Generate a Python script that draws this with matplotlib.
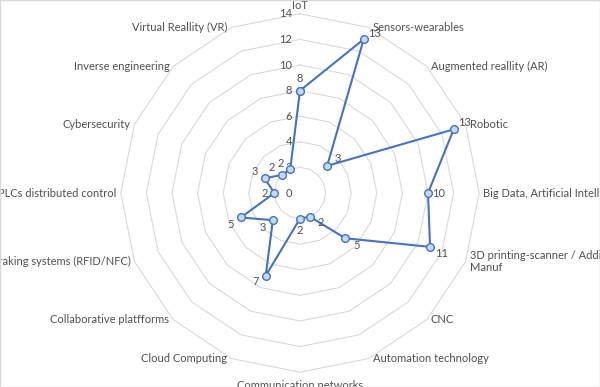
import numpy as np
import matplotlib
matplotlib.use("Agg")
import matplotlib.pyplot as plt

categories = ["IoT", "Sensors-wearables", "Augmented reallity (AR)", "Robotic",
              "Big Data, Artificial Intelligence", "3D printing-scanner / Additive\nManuf",
              "CNC", "Automation technology", "Communication networks",
              "Cloud Computing", "Collaborative platfforms", "Traking systems (RFID/NFC)",
              "PLCs distributed control", "Cybersecurity", "Inverse engineering",
              "Virtual Reallity (VR)"]
values = [8, 13, 3, 13, 10, 11, 5, 2, 2, 7, 3, 5, 2, 3, 2, 2]
ticks = [0, 2, 4, 6, 8, 10, 12, 14]

plt.rcParams["font.family"] = ["Lato", "DejaVu Sans"]
txt = "#505050"
blue = "#4472C4"

fig = plt.figure(figsize=(6, 3.87), dpi=100)
ax = fig.add_axes([0, 0, 1, 1])
scale = 12.8  # px per unit
ax.set_xlim(-300 / scale, 300 / scale)
ax.set_ylim(-194 / scale, 193 / scale)
ax.axis("off")

n = len(categories)
ang = np.arange(n) * 2 * np.pi / n
sx, cy = np.sin(ang), np.cos(ang)

# polygon grid
for r in ticks[1:]:
    ax.plot(np.append(r * sx, r * sx[0]), np.append(r * cy, r * cy[0]),
            color="#d9d9d9", lw=0.8, zorder=1)

# radial tick labels
for r in ticks:
    ax.text(-8 / scale, r, str(r), ha="right", va="center", fontsize=8, color=txt)

# category labels
R = ticks[-1]
for a, s, c, lab in zip(ang, sx, cy, categories):
    x, y = R * s, R * c
    if abs(s) < 1e-6:
        if c > 0:
            ax.text(x, y + 3 / scale, lab, ha="center", va="bottom", fontsize=8, color=txt)
        else:
            ax.text(x, y - 8 / scale, lab, ha="center", va="top", fontsize=8, color=txt)
    elif s > 0:
        ax.text(x + 4 / scale, y, lab, ha="left", va="center", fontsize=8, color=txt)
    else:
        ax.text(x - 4 / scale, y, lab, ha="right", va="center", fontsize=8, color=txt)

# data
px, py = np.array(values) * sx, np.array(values) * cy
ax.plot(np.append(px, px[0]), np.append(py, py[0]), color=blue, lw=1.5, zorder=3,
        marker="o", ms=5.5, mfc="#c5d9f1", mec=blue, mew=1)

for v, s, c, x, y in zip(values, sx, cy, px, py):
    if abs(s) < 1e-6:
        dx, dy = 0, (12 if c > 0 else -12)
    else:
        dx = 11 if s > 0 else -10
        dy = 7 * np.sign(c) if abs(c) > 1e-6 else 0
        if abs(c) > 0.9:
            dy = 6 * np.sign(c)
    ax.text(x + dx / scale, y + dy / scale, str(v), ha="center", va="center",
            fontsize=8, color=txt, zorder=4)

fig.patches.append(plt.Rectangle((0, 0), 1, 1, transform=fig.transFigure,
                                 fill=False, edgecolor="#d9d9d9", lw=1))
fig.savefig("out.png", dpi=100)
